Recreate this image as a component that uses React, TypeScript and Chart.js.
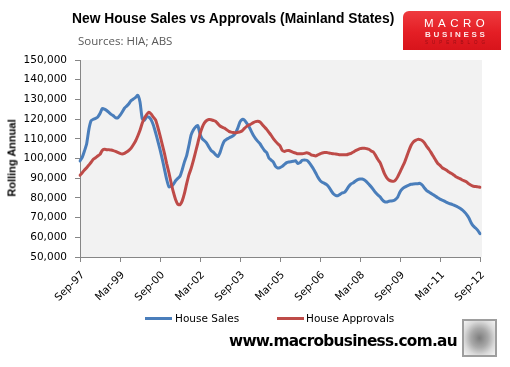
import React, { useEffect, useRef } from "react";
import { Chart, registerables } from "chart.js";

Chart.register(...registerables);

// Monthly categories Sep-97 .. Sep-12
const MONTH_NAMES = ["Jan","Feb","Mar","Apr","May","Jun","Jul","Aug","Sep","Oct","Nov","Dec"];
const categories: string[] = [];
for (let i = 0; i <= 180; i++) {
  const k = 8 + i;
  const yr = 1997 + Math.floor(k / 12);
  categories.push(`${MONTH_NAMES[k % 12]}-${String(yr % 100).padStart(2, "0")}`);
}

const tickLabels = ["Sep-97","Mar-99","Sep-00","Mar-02","Sep-03","Mar-05","Sep-06","Mar-08","Sep-09","Mar-11","Sep-12"];

// values in thousands (rolling annual)
const houseSales = [
  98.8, 100.6, 103.8, 107.5, 114.8, 119.2, 119.9, 120.4, 121.1, 122.8,
  125.3, 125.1, 124.4, 123.4, 122.4, 121.7, 120.7, 120.6, 121.9, 123.6,
  125.5, 126.6, 127.8, 129.4, 130.2, 131.0, 132.1, 128.7, 120.2, 119.4,
  121.1, 121.0, 119.7, 117.0, 113.2, 109.0, 104.6, 99.8, 94.6, 89.4,
  85.7, 85.9, 86.9, 88.7, 89.9, 91.0, 94.3, 98.3, 101.5, 106.6,
  112.0, 114.5, 116.0, 116.7, 112.5, 110.0, 109.0, 107.8, 105.8, 104.1,
  103.2, 102.0, 101.0, 103.0, 106.5, 108.9, 109.8, 110.4, 111.0, 111.6,
  113.0, 115.4, 118.6, 119.8, 119.5, 118.0, 116.3, 114.0, 111.8, 110.1,
  108.7, 107.5, 105.7, 104.1, 103.0, 100.3, 99.2, 98.2, 96.0, 95.2,
  95.4, 96.0, 97.0, 97.9, 98.2, 98.4, 98.6, 98.9, 97.5, 97.9,
  99.1, 99.2, 99.1, 98.1, 96.5, 94.8, 92.8, 90.6, 88.9, 87.9,
  87.4, 86.7, 85.5, 83.7, 82.1, 81.3, 81.1, 81.8, 82.5, 82.8,
  84.2, 85.9, 87.1, 87.7, 88.6, 89.3, 89.6, 89.6, 89.1, 88.1,
  86.9, 85.7, 84.2, 82.7, 81.5, 80.6, 79.1, 78.1, 77.9, 78.3,
  78.4, 78.6, 79.3, 80.5, 83.0, 84.5, 85.4, 86.0, 86.5, 86.9,
  87.1, 87.2, 87.2, 87.4, 86.5, 85.0, 83.7, 83.0, 82.3, 81.6,
  80.8, 80.1, 79.4, 78.9, 78.4, 77.7, 77.2, 76.9, 76.4, 75.9,
  75.4, 74.7, 73.9, 72.8, 71.5, 69.8, 67.4, 65.7, 64.7, 63.5,
  61.8,
];

const houseApprovals = [
  91.5, 92.8, 94.2, 95.3, 96.7, 98.1, 99.6, 100.4, 101.3, 102.1,
  104.1, 104.7, 104.5, 104.5, 104.3, 104.0, 103.6, 103.1, 102.6, 102.3,
  102.6, 103.3, 104.1, 105.3, 107.0, 108.9, 111.4, 114.3, 117.9, 120.6,
  122.3, 123.5, 122.6, 121.0, 119.6, 116.0, 111.7, 107.2, 102.6, 97.4,
  92.8, 87.7, 83.0, 79.2, 76.8, 76.5, 78.5, 82.3, 87.2, 91.7,
  94.9, 98.9, 103.3, 107.7, 112.4, 115.8, 118.1, 119.3, 119.8, 119.7,
  119.3, 118.9, 117.7, 116.5, 115.9, 115.4, 114.6, 113.8, 113.4, 113.2,
  113.1, 113.3, 113.5, 114.1, 115.3, 116.3, 117.0, 117.5, 118.2, 118.7,
  118.9, 118.5, 117.3, 116.0, 114.8, 113.3, 111.8, 110.1, 108.7, 107.5,
  106.4, 104.1, 103.6, 104.0, 104.1, 103.6, 103.1, 102.8, 102.4, 102.4,
  102.4, 102.6, 102.9, 102.6, 101.9, 101.6, 101.3, 101.8, 102.4, 102.8,
  103.0, 103.0, 102.8, 102.6, 102.4, 102.3, 102.1, 101.9, 101.9, 101.9,
  101.9, 102.3, 102.6, 103.3, 104.0, 104.5, 105.0, 105.2, 105.2, 105.0,
  104.7, 103.8, 103.3, 101.6, 99.6, 98.0, 95.2, 92.3, 90.3, 89.1,
  88.6, 88.4, 89.1, 90.8, 93.1, 95.5, 97.9, 100.9, 104.0, 106.7,
  108.4, 109.2, 109.7, 109.6, 109.1, 107.9, 106.2, 104.7, 103.0, 101.1,
  99.2, 97.5, 96.5, 95.3, 94.7, 94.0, 93.1, 92.5, 91.8, 90.9,
  90.3, 89.8, 89.1, 88.6, 88.1, 87.1, 86.4, 85.9, 85.8, 85.6,
  85.4,
];

const SALES_COLOR = "#4A7EBB";
const APPROVALS_COLOR = "#BE4B48";
const AXIS_COLOR = "#868686";
const TICK_FONT = "'DejaVu Sans', sans-serif";

const plotBg = {
  id: "plotBg",
  beforeDraw(chart: any) {
    const { ctx, chartArea: a } = chart;
    ctx.save();
    ctx.fillStyle = "#F2F2F2";
    ctx.fillRect(a.left, a.top, a.right - a.left + 2, a.bottom - a.top);
    ctx.restore();
  },
};

const abs = (s: React.CSSProperties): React.CSSProperties => ({
  position: "absolute",
  whiteSpace: "nowrap",
  margin: 0,
  padding: 0,
  ...s,
});

export default function App() {
  const ref = useRef<HTMLCanvasElement | null>(null);

  useEffect(() => {
    if (!ref.current) return;
    const chart = new Chart(ref.current, {
      type: "line",
      data: {
        labels: categories,
        datasets: [
          {
            label: "House Sales",
            data: houseSales,
            borderColor: SALES_COLOR,
            backgroundColor: SALES_COLOR,
            borderWidth: 3,
            pointRadius: 0,
            tension: 0.2,
            borderCapStyle: "round",
            borderJoinStyle: "round",
            order: 1,
          },
          {
            label: "House Approvals",
            data: houseApprovals,
            borderColor: APPROVALS_COLOR,
            backgroundColor: APPROVALS_COLOR,
            borderWidth: 3,
            pointRadius: 0,
            tension: 0.2,
            borderCapStyle: "round",
            borderJoinStyle: "round",
            order: 0,
          },
        ],
      },
      options: {
        animation: false,
        responsive: false,
        devicePixelRatio: 1,
        layout: { padding: { left: 0, right: 30, top: 60, bottom: 60 } },
        plugins: { legend: { display: false }, tooltip: { enabled: false }, title: { display: false } },
        scales: {
          x: {
            type: "category",
            offset: false,
            grid: { display: true, drawOnChartArea: false, drawTicks: true, tickLength: 5, color: AXIS_COLOR },
            border: { display: true, color: AXIS_COLOR, width: 1 },
            ticks: {
              autoSkip: false,
              minRotation: 45,
              maxRotation: 45,
              padding: 7,
              labelOffset: 3,
              color: "#000",
              font: { family: TICK_FONT, size: 10.5 },
              callback: (_v: any, index: number) => (index % 18 === 0 ? tickLabels[index / 18] : null),
            },
            afterFit: (scale: any) => {
              scale.height = 50;
            },
          },
          y: {
            min: 50,
            max: 150,
            grid: { display: true, drawOnChartArea: false, drawTicks: true, tickLength: 5, color: AXIS_COLOR },
            border: { display: true, color: AXIS_COLOR, width: 1 },
            ticks: {
              stepSize: 10,
              padding: 8,
              color: "#000",
              font: { family: TICK_FONT, size: 10.5 },
              callback: (v: any) => (Number(v) * 1000).toLocaleString("en-US"),
            },
            afterFit: (scale: any) => {
              scale.width = 80;
            },
          },
        },
      },
      plugins: [plotBg],
    });
    return () => chart.destroy();
  }, []);

  return (
    <div style={{ position: "absolute", left: 0, top: 0, width: 510, height: 367, background: "#fff", overflow: "hidden" }}>
      <canvas ref={ref} width={510} height={367} style={{ position: "absolute", left: 0, top: 0, width: 510, height: 367 }} />

      <div style={abs({ left: 72, top: 11.6, fontFamily: "'Liberation Sans', Arial, sans-serif", fontWeight: 700, fontSize: 13.8, lineHeight: "13.8px", color: "#000" })}>
        New House Sales vs Approvals (Mainland States)
      </div>
      <div style={abs({ left: 78, top: 35, fontFamily: "'Open Sans', sans-serif", fontSize: 11.5, lineHeight: "11.5px", color: "#595959" })}>
        Sources: HIA; ABS
      </div>

      {/* logo */}
      <div style={abs({ left: 403, top: 11, width: 98, height: 39, background: "linear-gradient(180deg, #EF3B3F 0%, #E41E25 55%, #D8141B 100%)", borderTopLeftRadius: 6 })}>
        <div style={abs({ left: 21, top: 7, fontFamily: "'Liberation Sans', Arial, sans-serif", fontSize: 11.5, lineHeight: "11.5px", letterSpacing: 4.5, color: "#fff" })}>MACRO</div>
        <div style={abs({ left: 22, top: 19.5, fontFamily: "'Liberation Sans', Arial, sans-serif", fontWeight: 700, fontSize: 8, lineHeight: "8px", letterSpacing: 2.7, color: "#fde8e8" })}>BUSINESS</div>
        <div style={abs({ left: 22, top: 29, transformOrigin: "0 0", transform: "scale(0.5)", fontFamily: "'Liberation Sans', Arial, sans-serif", fontSize: 9, lineHeight: "9px", letterSpacing: 8, color: "#9b0e14" })}>SUPERBLOG</div>
      </div>

      {/* y-axis title */}
      <div style={abs({ left: 12, top: 158, transform: "translate(-50%, -50%) rotate(-90deg)", fontFamily: "'Liberation Sans', Arial, sans-serif", fontWeight: 700, fontSize: 11, lineHeight: "11px", color: "#000" })}>
        Rolling Annual
      </div>

      {/* legend */}
      <div style={abs({ left: 145, top: 316.5, width: 27, height: 3, background: SALES_COLOR })} />
      <div style={abs({ left: 175, top: 312.6, fontFamily: TICK_FONT, fontSize: 10.5, lineHeight: "10.5px", color: "#000" })}>House Sales</div>
      <div style={abs({ left: 277, top: 316.5, width: 27, height: 3, background: APPROVALS_COLOR })} />
      <div style={abs({ left: 306, top: 312.6, fontFamily: TICK_FONT, fontSize: 10.5, lineHeight: "10.5px", color: "#000" })}>House Approvals</div>

      {/* footer */}
      <div style={abs({ left: 229, top: 334, fontFamily: "'DejaVu Sans', sans-serif", fontWeight: 700, fontSize: 15.3, lineHeight: "15.3px", letterSpacing: -0.7, color: "#000" })}>
        www.macrobusiness.com.au
      </div>
      <div style={abs({ left: 462, top: 319, width: 31, height: 34, border: "2px solid #9E9E9E", background: "radial-gradient(ellipse at 50% 50%, #7d7d7d 0%, #a9a9a9 40%, #d9d9d9 70%, #f4f4f4 100%)" })} />
    </div>
  );
}
